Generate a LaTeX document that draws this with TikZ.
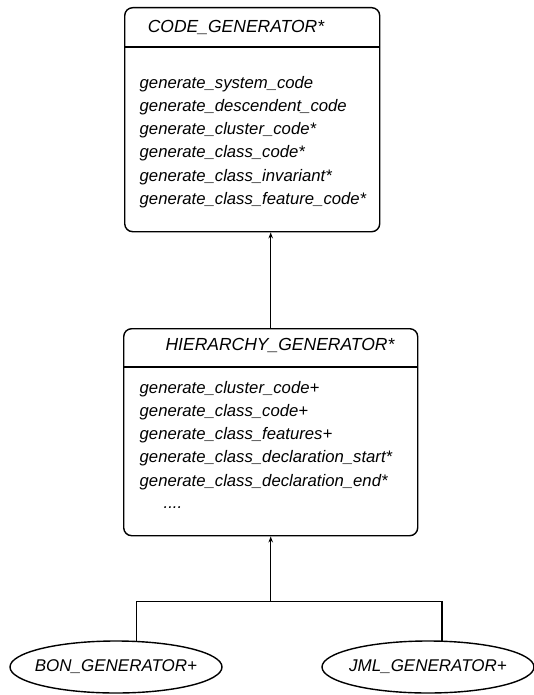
\documentclass[tikz,border=0pt]{standalone}
\usepackage{fontspec}
\setmainfont{Liberation Sans}
\usetikzlibrary{shapes.geometric,arrows.meta,calc}
\begin{document}
\begin{tikzpicture}[x=1pt,y=-1pt,
  line width=1.4pt,
  classbox/.style={draw, rounded corners=8pt, anchor=north west, inner sep=0pt},
  gen/.style={draw, ellipse, inner sep=0pt, minimum width=212pt, minimum height=52pt,
    font=\fontsize{17}{19}\selectfont\itshape},
  title/.style={inner sep=0pt, font=\fontsize{17.5}{19}\selectfont\itshape},
  feat/.style={inner sep=0pt, anchor=west, font=\fontsize{16.7}{19}\selectfont\itshape},
  inherit/.style={-{Stealth[length=6pt,width=4.5pt]}}
]
\useasboundingbox (0,0) rectangle (534,695);
% CODE_GENERATOR
\node[classbox, minimum width=255pt, minimum height=224pt] (cg) at (124,7) {};
\draw (124,47) -- (379,47);
\node[title] (cgt) at (236,27) {CODE\_GENERATOR*};
\node[feat] (f1) at (139,84) {generate\_system\_code};
\node[feat] (f2) at (139,107) {generate\_descendent\_code};
\node[feat] (f3) at (139,130) {generate\_cluster\_code*};
\node[feat] (f4) at (139,153) {generate\_class\_code*};
\node[feat] (f5) at (139,177) {generate\_class\_invariant*};
\node[feat] (f6) at (139,200) {generate\_class\_feature\_code*};
% HIERARCHY_GENERATOR
\node[classbox, minimum width=294pt, minimum height=207pt] (hg) at (123,328) {};
\draw (123,367) -- (417,367);
\node[title] (hgt) at (280,345) {HIERARCHY\_GENERATOR*};
\node[feat] (h1) at (139,389) {generate\_cluster\_code+};
\node[feat] (h2) at (139,412) {generate\_class\_code+};
\node[feat] (h3) at (139,435) {generate\_class\_features+};
\node[feat] (h4) at (139,458) {generate\_class\_declaration\_start*};
\node[feat] (h5) at (139,482) {generate\_class\_declaration\_end*};
\node[feat] (h6) at (163,508) {....};
% descendants
\node[gen] (bon) at (116,667) {\makebox[0pt]{BON\_GENERATOR+}};
\node[gen] (jml) at (428,667) {\makebox[0pt]{JML\_GENERATOR+}};
% connectors
\draw[inherit] (hg.north) -- (hg.north |- cg.south);
\coordinate (j) at ($(hg.south)+(0,65)$);
\draw (bon.52) |- (j) -| (jml.62);
\draw[inherit] (j) -- (hg.south);
\end{tikzpicture}
\end{document}
